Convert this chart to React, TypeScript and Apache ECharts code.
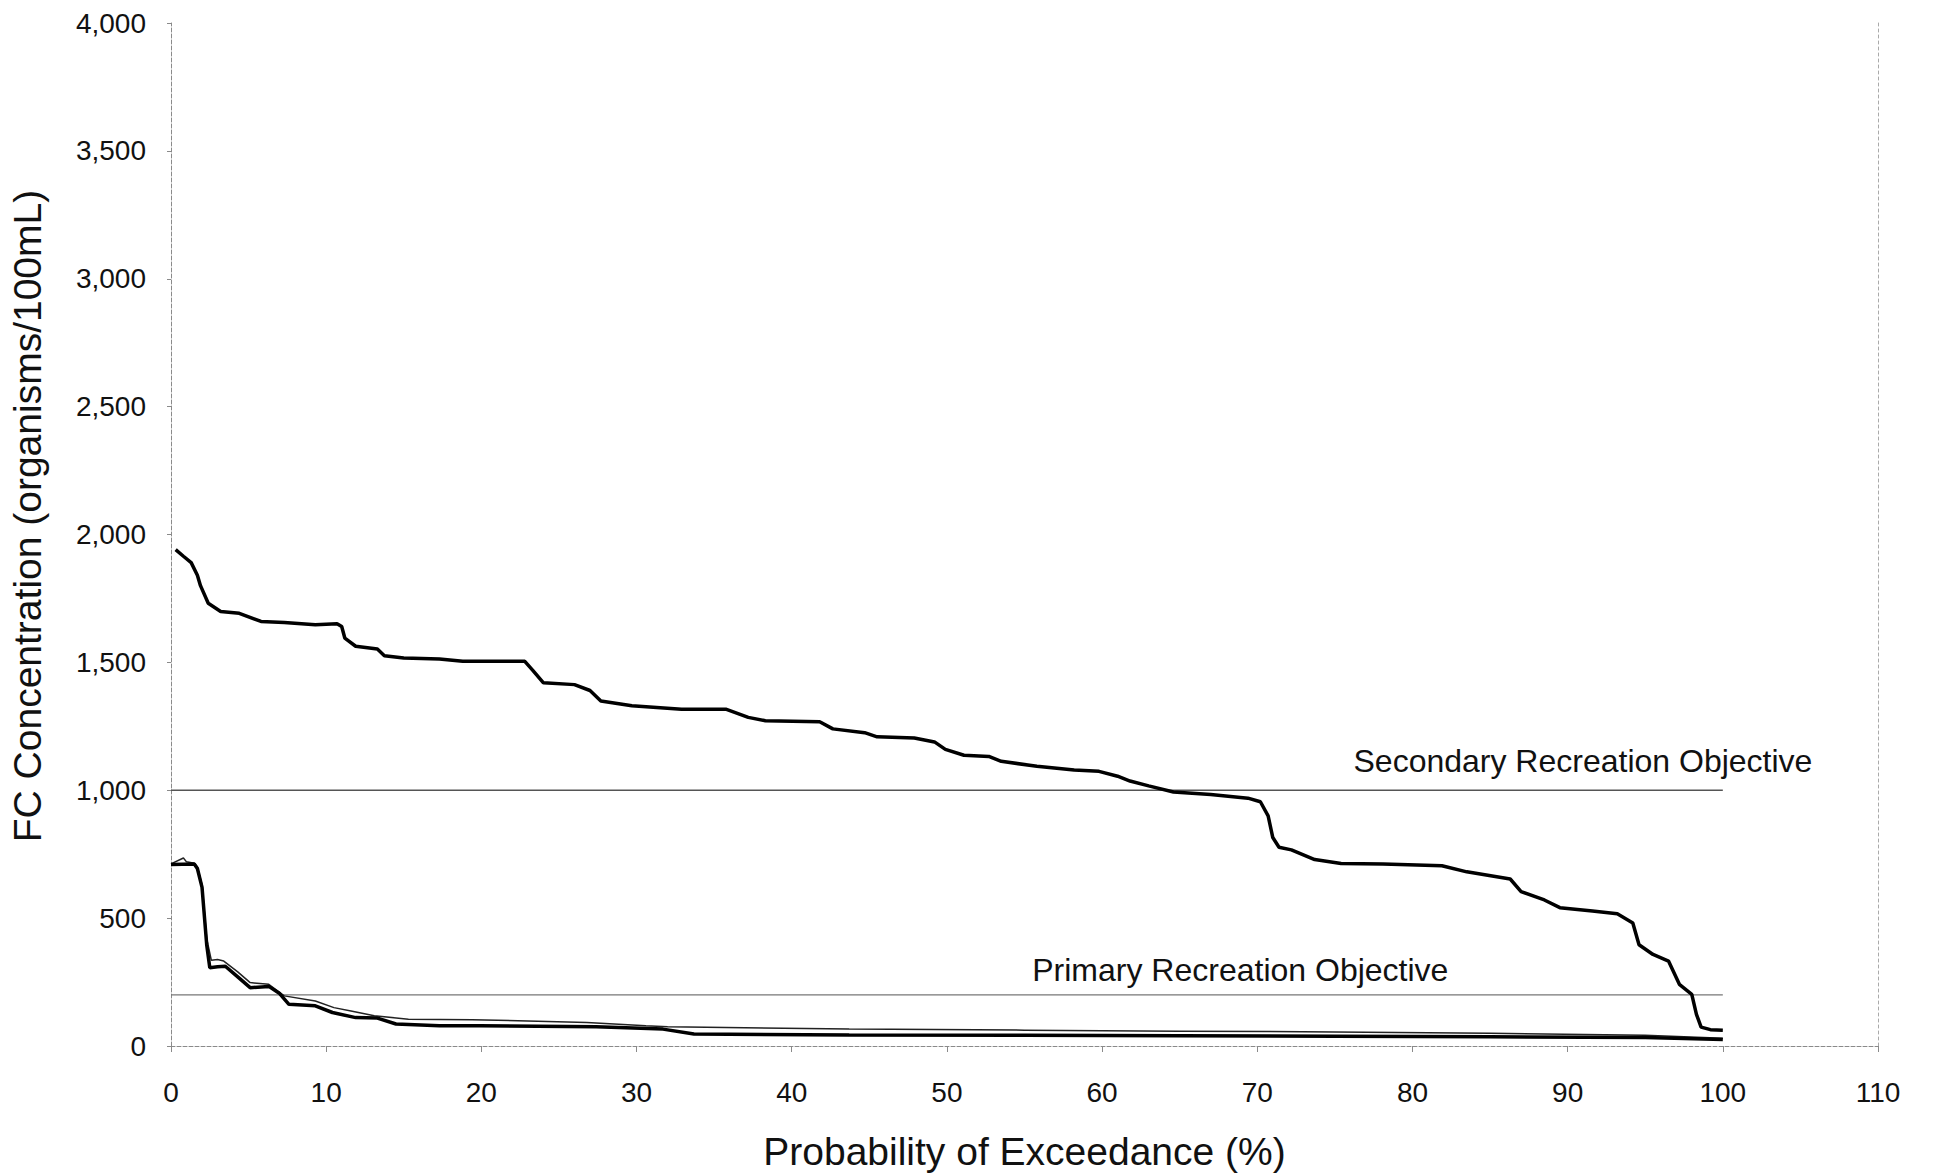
import React, { useEffect, useRef } from "react";
import * as echarts from "echarts";

// Probability of exceedance (%) vs FC concentration (organisms/100mL)
const upperCurve: [number, number][] = [
  [0.3, 1941], [0.8, 1915], [1.3, 1890], [1.7, 1841], [1.9, 1800], [2.4, 1731], [3.2, 1699],
  [4.4, 1692], [5.8, 1660], [7.3, 1656], [9.3, 1647], [10.7, 1651], [11.0, 1640], [11.2, 1595],
  [11.9, 1563], [13.3, 1552], [13.75, 1526], [15.0, 1517], [17.3, 1513], [18.8, 1504], [22.8, 1504],
  [23.3, 1470], [24.0, 1420], [26.0, 1413], [27.0, 1390], [27.7, 1349], [29.7, 1330], [32.9, 1317],
  [35.75, 1317], [37.2, 1285], [38.3, 1272], [41.8, 1268], [42.65, 1240], [44.7, 1225], [45.5, 1209],
  [47.9, 1204], [49.2, 1189], [49.9, 1160], [51.1, 1137], [52.7, 1132], [53.5, 1113], [55.8, 1094],
  [58.2, 1079], [59.8, 1074], [61.0, 1055], [61.8, 1036], [63.0, 1017], [64.6, 993], [67.0, 983],
  [69.4, 969], [70.2, 955], [70.7, 900], [71.0, 815], [71.4, 777], [72.2, 767], [73.7, 729],
  [75.4, 714], [78.1, 712], [81.9, 705], [83.5, 681], [86.3, 653], [87.0, 604], [88.5, 571],
  [89.5, 541], [91.6, 528], [93.2, 517], [94.2, 481], [94.6, 396], [95.5, 358], [96.5, 332],
  [97.2, 241], [98.0, 202], [98.3, 124], [98.6, 74], [99.2, 64], [100, 62],
];

const lowerThick: [number, number][] = [
  [0, 710], [1.5, 712], [1.7, 694], [2.0, 620], [2.3, 396], [2.5, 306], [3.0, 310], [3.5, 312],
  [4.3, 270], [5.1, 228], [6.3, 233], [7.0, 205], [7.6, 163], [9.3, 157], [10.4, 131], [11.9, 111],
  [13.3, 109], [14.5, 86], [17.3, 79], [19.9, 79], [27.4, 75], [31.7, 66], [33.7, 47], [43.7, 43],
  [55, 42], [65, 40], [75, 38], [85, 36], [95, 33], [100, 25],
];

const lowerThin: [number, number][] = [
  [0, 712], [0.8, 735], [1.0, 720], [1.5, 715], [1.7, 700], [2.0, 630], [2.3, 420], [2.6, 335],
  [3.0, 338], [3.4, 332], [4.3, 290], [5.1, 248], [6.3, 241], [7.3, 196], [9.3, 176], [10.5, 150],
  [11.6, 137], [13.1, 118], [15.3, 105], [19.4, 103], [26.8, 92], [30.6, 79], [32, 75], [43.7, 66],
  [55, 62], [65, 58], [75, 55], [85, 50], [95, 42], [100, 30],
];

const secondaryObjective: [number, number][] = [[0, 1000], [100, 1000]];
const primaryObjective: [number, number][] = [[0, 200], [100, 200]];

const objectiveLabels = [
  { text: "Secondary Recreation Objective", at: [76.2, 1115] },
  { text: "Primary Recreation Objective", at: [55.5, 299] },
];

const xTicks = [0, 10, 20, 30, 40, 50, 60, 70, 80, 90, 100, 110];
const yTicks = [0, 500, 1000, 1500, 2000, 2500, 3000, 3500, 4000];

const xTitle = "Probability of Exceedance (%)";
const yTitle = "FC Concentration (organisms/100mL)";

const FONT = "'Liberation Sans', Arial, Helvetica, sans-serif";

export default function App() {
  const ref = useRef<HTMLDivElement>(null);
  useEffect(() => {
    if (!ref.current) return;
    const chart = echarts.init(ref.current, undefined, { renderer: "svg" });
    const axisGray = "#8a8a8a";
    chart.setOption({
      animation: false,
      backgroundColor: "#ffffff",
      grid: { left: 171, right: 59, top: 23, bottom: 124, containLabel: false },
      xAxis: {
        type: "value",
        min: xTicks[0],
        max: xTicks[xTicks.length - 1],
        interval: 10,
        name: xTitle,
        nameLocation: "middle",
        nameGap: 86,
        nameTextStyle: { fontFamily: FONT, fontSize: 39, color: "#111" },
        axisLine: { show: true, lineStyle: { color: axisGray, type: [4, 2], width: 1 } },
        axisTick: { show: true, length: 6, lineStyle: { color: axisGray } },
        axisLabel: { margin: 32, fontFamily: FONT, fontSize: 28, color: "#111" },
        splitLine: { show: false },
      },
      yAxis: [
        {
          type: "value",
          min: yTicks[0],
          max: yTicks[yTicks.length - 1],
          interval: 500,
          axisLine: { show: true, lineStyle: { color: axisGray, type: [4, 2], width: 1 } },
          axisTick: { show: true, inside: false, length: 4, lineStyle: { color: axisGray } },
          axisLabel: {
            margin: 25,
            fontFamily: FONT,
            fontSize: 28,
            color: "#111",
            formatter: (v: number) => v.toLocaleString("en-US"),
          },
          splitLine: { show: false },
        },
        {
          type: "value",
          position: "right",
          min: yTicks[0],
          max: yTicks[yTicks.length - 1],
          interval: 500,
          axisLine: { show: true, lineStyle: { color: "#aaaaaa", type: [3, 3], width: 1 } },
          axisTick: { show: false },
          axisLabel: { show: false },
          splitLine: { show: false },
        },
      ],
      series: [
        {
          type: "line",
          data: secondaryObjective,
          showSymbol: false,
          lineStyle: { color: "#555", width: 1.5 },
          z: 1,
        },
        {
          type: "line",
          data: primaryObjective,
          showSymbol: false,
          lineStyle: { color: "#777", width: 1.3 },
          z: 1,
        },
        {
          type: "line",
          data: upperCurve,
          showSymbol: false,
          lineStyle: { color: "#000", width: 3.5 },
          z: 3,
        },
        {
          type: "line",
          data: lowerThin,
          showSymbol: false,
          lineStyle: { color: "#222", width: 1.5 },
          z: 2,
        },
        {
          type: "line",
          data: lowerThick,
          showSymbol: false,
          lineStyle: { color: "#000", width: 3.5 },
          z: 3,
        },
      ],
    });
    const graphics: any[] = objectiveLabels.map((l) => {
      const p = chart.convertToPixel({ gridIndex: 0 }, l.at) as number[];
      return {
        type: "text",
        x: p[0],
        y: p[1],
        style: {
          text: l.text,
          fontFamily: FONT,
          fontSize: 32,
          fill: "#111",
          align: "left",
          verticalAlign: "middle",
        },
      };
    });
    graphics.push({
      type: "text",
      x: 27,
      y: 516,
      rotation: Math.PI / 2,
      style: {
        text: yTitle,
        fontFamily: FONT,
        fontSize: 39,
        fill: "#111",
        align: "center",
        verticalAlign: "middle",
      },
    });
    chart.setOption({ graphic: graphics });
    return () => chart.dispose();
  }, []);
  return (
    <div
      ref={ref}
      style={{ position: "absolute", left: 0, top: 0, width: 1937, height: 1176 }}
    />
  );
}
